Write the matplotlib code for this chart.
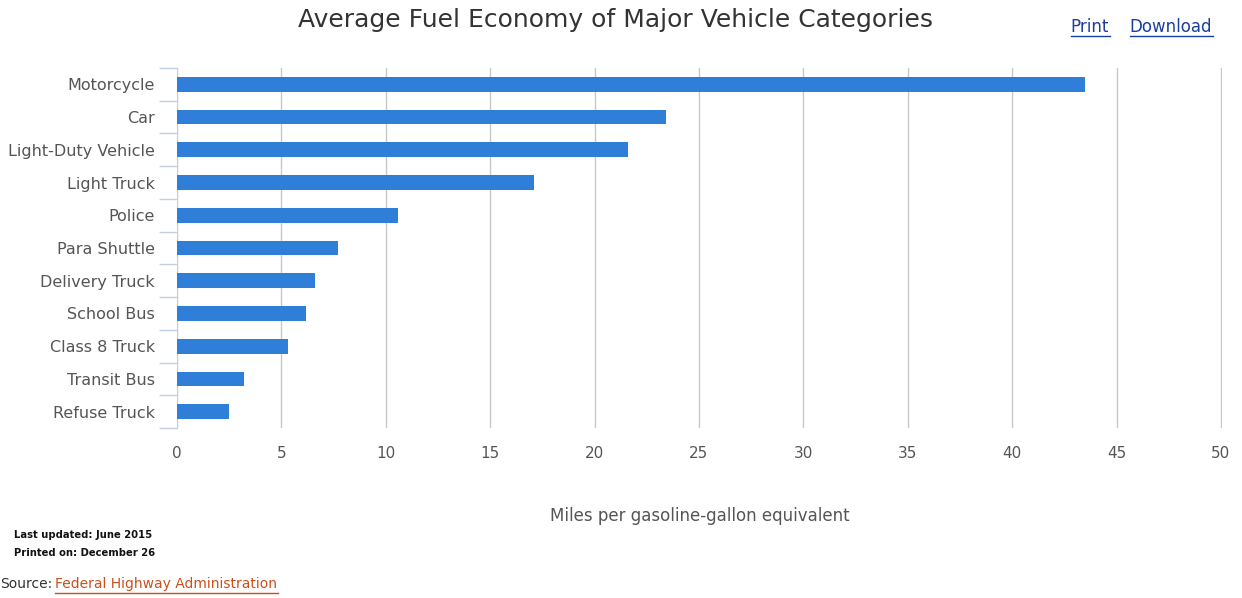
import matplotlib.pyplot as plt
import numpy as np

# data
categories = ['Motorcycle', 'Car', 'Light-Duty Vehicle', 'Light Truck', 'Police',
              'Para Shuttle', 'Delivery Truck', 'School Bus', 'Class 8 Truck',
              'Transit Bus', 'Refuse Truck']
mpg = [43.5, 23.4, 21.6, 17.1, 10.6, 7.7, 6.6, 6.2, 5.3, 3.2, 2.5]
xticks = [0, 5, 10, 15, 20, 25, 30, 35, 40, 45, 50]

fig = plt.figure(figsize=(12.42, 5.98), dpi=100)
ax = fig.add_axes([177 / 1242, 1 - 428 / 598, (1222 - 177) / 1242, 360 / 598])

y = np.arange(len(categories))
ax.barh(y, mpg, height=0.45, color='#2F7ED8', zorder=3)
ax.set_ylim(len(categories) - 0.5, -0.5)
ax.set_xlim(0, 50.05)

ax.set_yticks(y)
ax.set_yticklabels(categories, fontsize=11.5, color='#555555')
ax.set_yticks(np.arange(len(categories) + 1) - 0.5, minor=True)
ax.tick_params(axis='y', which='major', length=0, pad=16)
ax.tick_params(axis='y', which='minor', length=13, color='#C0D0E0', width=1)

ax.set_xticks(xticks)
ax.set_xticklabels([str(t) for t in xticks], fontsize=11, color='#555555')
ax.tick_params(axis='x', length=0, pad=13)
ax.grid(axis='x', color='#C8C8C8', linewidth=1, zorder=0)

for s in ['top', 'right', 'bottom']:
    ax.spines[s].set_visible(False)
ax.spines['left'].set_color('#C0D0E0')

ax.set_xlabel('Miles per gasoline-gallon equivalent', fontsize=12, color='#555555', labelpad=33)

fig.text(615 / 1242, 1 - 20 / 598, 'Average Fuel Economy of Major Vehicle Categories',
         ha='center', va='center', fontsize=18, color='#333333')
fig.text(1090 / 1242, 1 - 27 / 598, 'Print', ha='center', va='center', fontsize=12,
         color='#1A3F9C')
fig.text(1171 / 1242, 1 - 27 / 598, 'Download', ha='center', va='center', fontsize=12,
         color='#1A3F9C')
fig.add_artist(plt.Line2D([1071 / 1242, 1110 / 1242], [1 - 36 / 598] * 2, color='#1A3F9C', lw=1))
fig.add_artist(plt.Line2D([1130 / 1242, 1213 / 1242], [1 - 36 / 598] * 2, color='#1A3F9C', lw=1))

fig.text(14 / 1242, 1 - 535 / 598, 'Last updated: June 2015', fontsize=7.2, weight='bold',
         va='center', color='#111111')
fig.text(14 / 1242, 1 - 553 / 598, 'Printed on: December 26', fontsize=7.2, weight='bold',
         va='center', color='#111111')
fig.text(0.5 / 1242, 1 - 584 / 598, 'Source:', fontsize=10, va='center', color='#333333')
fig.text(55 / 1242, 1 - 584 / 598, 'Federal Highway Administration', fontsize=10,
         va='center', color='#C8501E')
fig.add_artist(plt.Line2D([55 / 1242, 278 / 1242], [1 - 593 / 598] * 2, color='#C8501E', lw=1))

fig.savefig('out.png', dpi=100)
